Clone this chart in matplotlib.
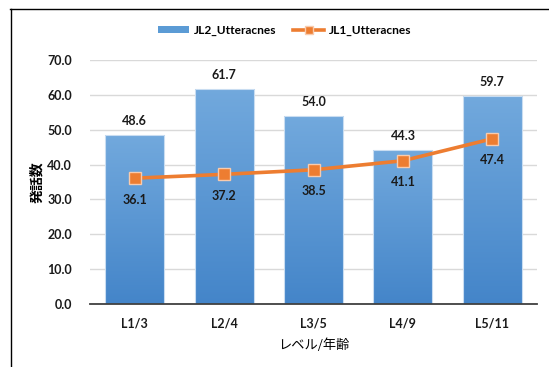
import matplotlib
matplotlib.use("Agg")
import matplotlib.pyplot as plt
import numpy as np
from matplotlib.lines import Line2D
from matplotlib.patches import Patch
from matplotlib.colors import LinearSegmentedColormap

plt.rcParams['font.family'] = ['Lato', 'Noto Sans CJK JP', 'DejaVu Sans']

categories = ["L1/3", "L2/4", "L3/5", "L4/9", "L5/11"]
jl2_utterances = [48.6, 61.7, 54.0, 44.3, 59.7]
jl1_utterances = [36.1, 37.2, 38.5, 41.1, 47.4]
y_ticks = [0, 10, 20, 30, 40, 50, 60, 70]

W, H = 549, 367
fig = plt.figure(figsize=(W / 100, H / 100), dpi=100)
ax = fig.add_axes([90 / W, 1 - 304 / H, (537 - 90) / W, (304 - 60) / H])

x = np.arange(len(categories))
bar_w = 0.66
grad_cmap = LinearSegmentedColormap.from_list("barfill", ["#4485C9", "#72A9DD"])
gradient = np.linspace(0, 1, 256).reshape(-1, 1)

bars = ax.bar(x, jl2_utterances, width=bar_w, facecolor="none",
              edgecolor="#C9DDF1", linewidth=0.8, zorder=2)
for b, v in zip(bars, jl2_utterances):
    im = ax.imshow(gradient, cmap=grad_cmap, origin="lower", aspect="auto",
                   extent=[b.get_x(), b.get_x() + b.get_width(), 0, v],
                   zorder=1.5)
    im.set_clip_path(b)
    ax.text(b.get_x() + b.get_width() / 2, v + 2.3, f"{v:.1f}",
            ha="center", va="bottom", fontsize=9, fontweight="bold",
            color="#1a1a1a", zorder=5)

ax.plot(x, jl1_utterances, color="#ED7D31", linewidth=2.6, marker="s",
        markersize=8, markerfacecolor="#ED7D31", markeredgecolor="#F8CBAD",
        markeredgewidth=1.0, zorder=4)
for xi, v in zip(x, jl1_utterances):
    ax.text(xi, v - 4.4, f"{v:.1f}", ha="center", va="top", fontsize=9,
            fontweight="bold", color="#1a1a1a", zorder=5)

ax.set_xlim(-0.5, len(categories) - 0.5)
ax.set_ylim(0, 70)
ax.set_yticks(y_ticks)
ax.set_yticklabels([f"{t:.1f}" for t in y_ticks], fontsize=9, fontweight="bold",
                   color="#1a1a1a")
ax.set_xticks(x)
ax.set_xticklabels(categories, fontsize=9, fontweight="bold", color="#1a1a1a")
ax.tick_params(axis="y", length=0, pad=13)
ax.tick_params(axis="x", length=0, pad=10)
ax.yaxis.grid(True, color="#D9D9D9", linewidth=1.0)
ax.set_axisbelow(True)
for s in ["top", "right", "left"]:
    ax.spines[s].set_visible(False)
ax.spines["bottom"].set_color("#404040")
ax.spines["bottom"].set_linewidth(1.3)
ax.spines["bottom"].set_zorder(6)

ax.set_ylabel("発話数", fontsize=10, fontweight="bold",
              family=['Noto Sans CJK JP', 'DejaVu Sans'], labelpad=2)
ax.set_xlabel("レベル/年齢", fontsize=9.5,
              family=['Noto Sans CJK JP', 'DejaVu Sans'], labelpad=6)

handles = [Patch(facecolor="#5B9BD5", edgecolor="none"),
           Line2D([0], [0], color="#ED7D31", linewidth=2.6, marker="s",
                  markersize=6, markerfacecolor="#ED7D31",
                  markeredgecolor="#F8CBAD")]
fig.legend(handles, ["JL2_Utteracnes", "JL1_Utteracnes"], loc="center",
           bbox_to_anchor=(285 / W, 1 - 30 / H), ncol=2, frameon=False,
           prop={"size": 8.6, "weight": "bold"}, handlelength=2.6,
           handleheight=0.5, columnspacing=1.4, handletextpad=0.4)

# outer frame (top and left edges)
fig.add_artist(Line2D([10 / W, 1], [1 - 9 / H, 1 - 9 / H], color="black",
                      linewidth=1.0, transform=fig.transFigure))
fig.add_artist(Line2D([11 / W, 11 / W], [0, 1 - 9 / H], color="black",
                      linewidth=1.0, transform=fig.transFigure))

fig.savefig("out.png", dpi=100)
